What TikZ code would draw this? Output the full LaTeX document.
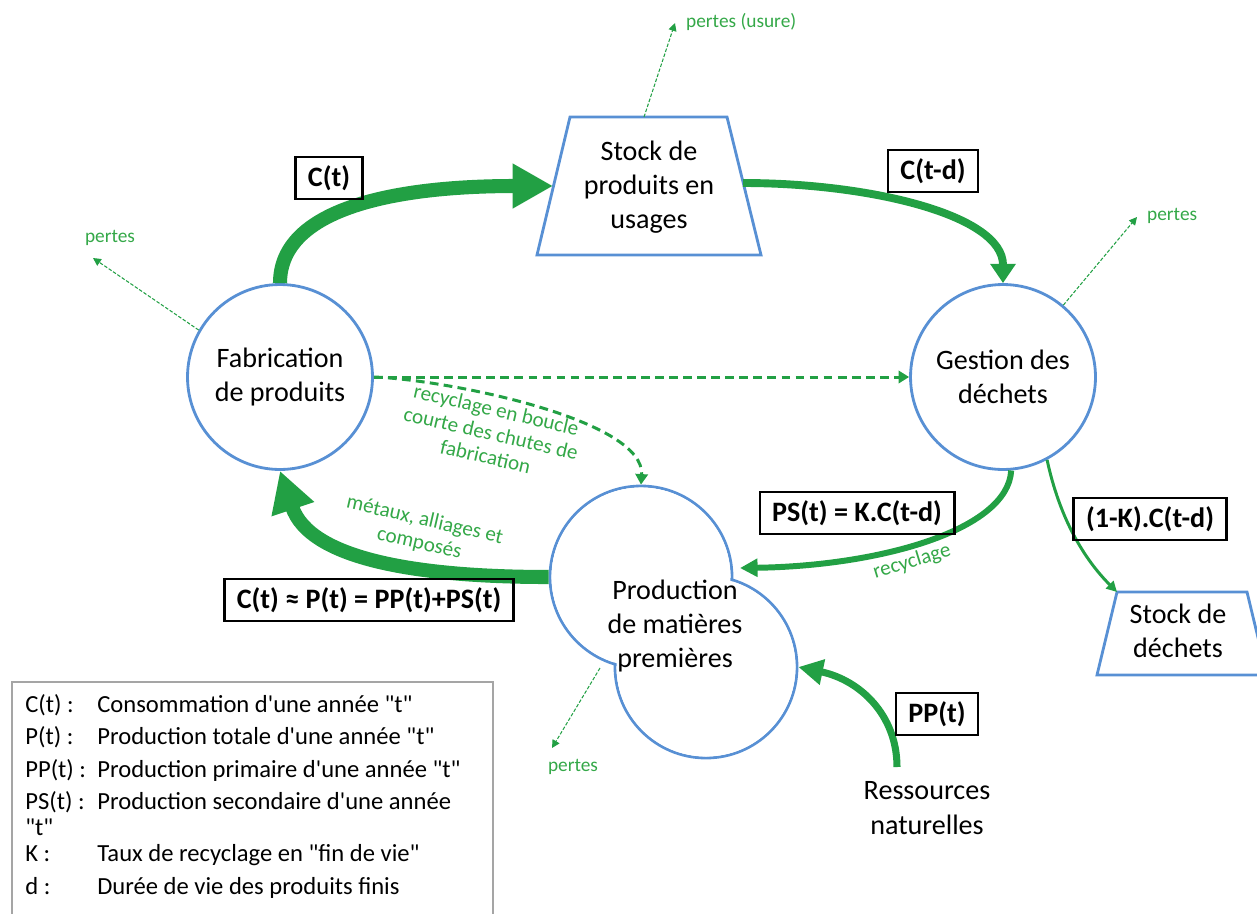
\documentclass[tikz,border=0pt]{standalone}
\usepackage{fontspec}
\setmainfont{Carlito}[Ligatures=TeXOff]
\usetikzlibrary{arrows.meta}
\usetikzlibrary{positioning}
\definecolor{flowgreen}{RGB}{34,160,68}
\definecolor{textgreen}{RGB}{52,168,72}
\definecolor{procblue}{RGB}{88,144,212}
\definecolor{leggray}{RGB}{165,165,165}

\begin{document}
\begin{tikzpicture}[line cap=round,line join=round,x=0.02cm,y=-0.02cm,
  proc/.style={circle,draw=procblue,line width=1.6pt,minimum size=3.7cm,inner sep=0pt,align=center,font=\fontsize{16}{19.5}\selectfont},
  txt/.style={align=center,font=\fontsize{16}{19.5}\selectfont},
  outline/.style={draw=procblue,line width=1.6pt,line join=miter},
  qty/.style={draw,line width=1.5pt,line join=miter,inner xsep=7pt,inner ysep=3pt,minimum height=24pt,font=\bfseries\fontsize{16}{19}\selectfont},
  flow/.style={flowgreen,line cap=butt},
  note/.style={text=textgreen,align=center,font=\fontsize{12}{13.6}\selectfont},
  losstext/.style={text=textgreen,font=\fontsize{11}{13}\selectfont},
  loss/.style={flowgreen,line width=0.6pt,line cap=butt,dash pattern=on 2pt off 1pt,-{Triangle[length=4.5pt,width=4.5pt]}},
  dashflow/.style={flowgreen,line width=1.7pt,line cap=butt,dash pattern=on 5pt off 3pt,-{Triangle[length=6pt,width=7pt]}},
  legtext/.style={anchor=west,inner sep=0pt,font=\fontsize{14}{17}\selectfont}]
\clip (0,0) rectangle (1257,913);

\node[proc] (fab) at (280,377) {Fabrication\\de produits};
\node[proc] (ges) at (1003,377) {Gestion des\\déchets};

\draw[outline] (570,117) -- (727,117) -- (761,255) -- (537,255) -- cycle;
\node[txt] (stock) at (649,187) {Stock de\\produits en\\usages};
\coordinate (stockW) at (553,186);
\coordinate (stockE) at (743,183);
\coordinate (stockN) at (644,117);

\draw[outline] (1117,592) -- (1247,592) -- (1267,675) -- (1097,675) -- cycle;
\node[txt] (dech) at (1178,631) {Stock de\\déchets};
\coordinate (dechNW) at (1117,592);

\node[circle,draw=procblue,line width=1.6pt,minimum size=3.64cm] (prodA) at (641,577) {};
\node[circle,draw=procblue,line width=1.6pt,minimum size=3.64cm] (prodB) at (706,667) {};
\fill[white] (prodA.center) circle [radius=89.5];
\fill[white] (prodB.center) circle [radius=89.5];
\node[txt] (prod) at (675,626) {Production\\de matières\\premières};
\coordinate (recEnd) at (740,568);
\coordinate (prodLoss) at (600,668);

\node[txt] (res) at (927,808) {Ressources\\naturelles};
\coordinate (ppStart) at (897,767);

\draw[flow,line width=8pt,-{Triangle[length=23pt,width=24pt]}] (fab.north) .. controls (280,210) and (390,186) .. (stockW);
\draw[flow,line width=4.5pt,-{Triangle[length=11pt,width=14pt]}] (stockE) .. controls (870,183) and (1003,215) .. (ges.north);
\draw[flow,line width=8pt,-{Triangle[length=23pt,width=24pt]}] (prodA.west) .. controls (420,577) and (310,560) .. (fab.south);
\draw[flow,line width=3.4pt,-{Triangle[length=10pt,width=10pt]}] (ges.-85) .. controls (1008,530) and (880,566) .. (recEnd);
\draw[flow,line width=1.7pt,-{Triangle[length=6pt,width=6pt]}] (ges.-62) .. controls (1060,520) and (1085,560) .. (dechNW);
\draw[flow,line width=4pt,-{Triangle[length=14pt,width=14pt]}] (ppStart) .. controls (897,715) and (860,680) .. (prodB.east);

\draw[dashflow] (fab.east) -- (ges.west);
\draw[dashflow] (fab.east) .. controls (450,380) and (645,420) .. (prodA.north);

\node[losstext] (pFab) at (110,238) {pertes};
\node[losstext,anchor=west] (pStock) at (680,22) {pertes (usure)};
\node[losstext,anchor=west] (pGes) at (1141,216) {pertes};
\node[losstext] (pProd) at (573,767) {pertes};
\coordinate (lossFab) at (93,258);
\coordinate (lossStock) at (675,23);
\coordinate (lossGes) at (1137,217);
\coordinate (lossProd) at (552,748);
\draw[loss] (fab.150) -- (lossFab);
\draw[loss] (stockN) -- (lossStock);
\draw[loss] (ges.50) -- (lossGes);
\draw[loss] (prodLoss) -- (lossProd);

\node[qty] (ct) at (329,178) {C(t)};
\node[qty] (ctd) at (933,171) {C(t-d)};
\node[qty] (pst) at (857,513) {PS(t) = K.C(t-d)};
\node[qty] (kct) at (1150,519) {(1-K).C(t-d)};
\node[qty] (bal) at (369,600) {C(t) ≈ P(t) = PP(t)+PS(t)};
\node[qty] (ppt) at (937,714) {PP(t)};

\node[note,rotate=-13] (chutes) at (491,433) {recyclage en boucle\\courte des chutes de\\fabrication};
\node[note,rotate=-13] (metaux) at (422,532) {métaux, alliages et\\composés};
\node[note,rotate=17] (recy) at (912,562) {recyclage};

\draw[leggray,line width=0.6pt,line join=miter] (12,682) rectangle (493,925);
\node[legtext] (legC) at (25,705) {\makebox[41pt][l]{C(t) :}Consommation d'une année "t"};
\node[legtext] (legP) at (25,737) {\makebox[41pt][l]{P(t) :}Production totale d'une année "t"};
\node[legtext] (legPP) at (25,770) {\makebox[41pt][l]{PP(t) :}Production primaire d'une année "t"};
\node[legtext] (legPS) at (25,802) {\makebox[41pt][l]{PS(t) :}Production secondaire d'une année};
\node[legtext] (legPSb) at (25,827) {"t"};
\node[legtext] (legK) at (25,855) {\makebox[41pt][l]{K :}Taux de recyclage en "fin de vie"};
\node[legtext] (legd) at (25,888) {\makebox[41pt][l]{d :}Durée de vie des produits finis};
\end{tikzpicture}
\end{document}
